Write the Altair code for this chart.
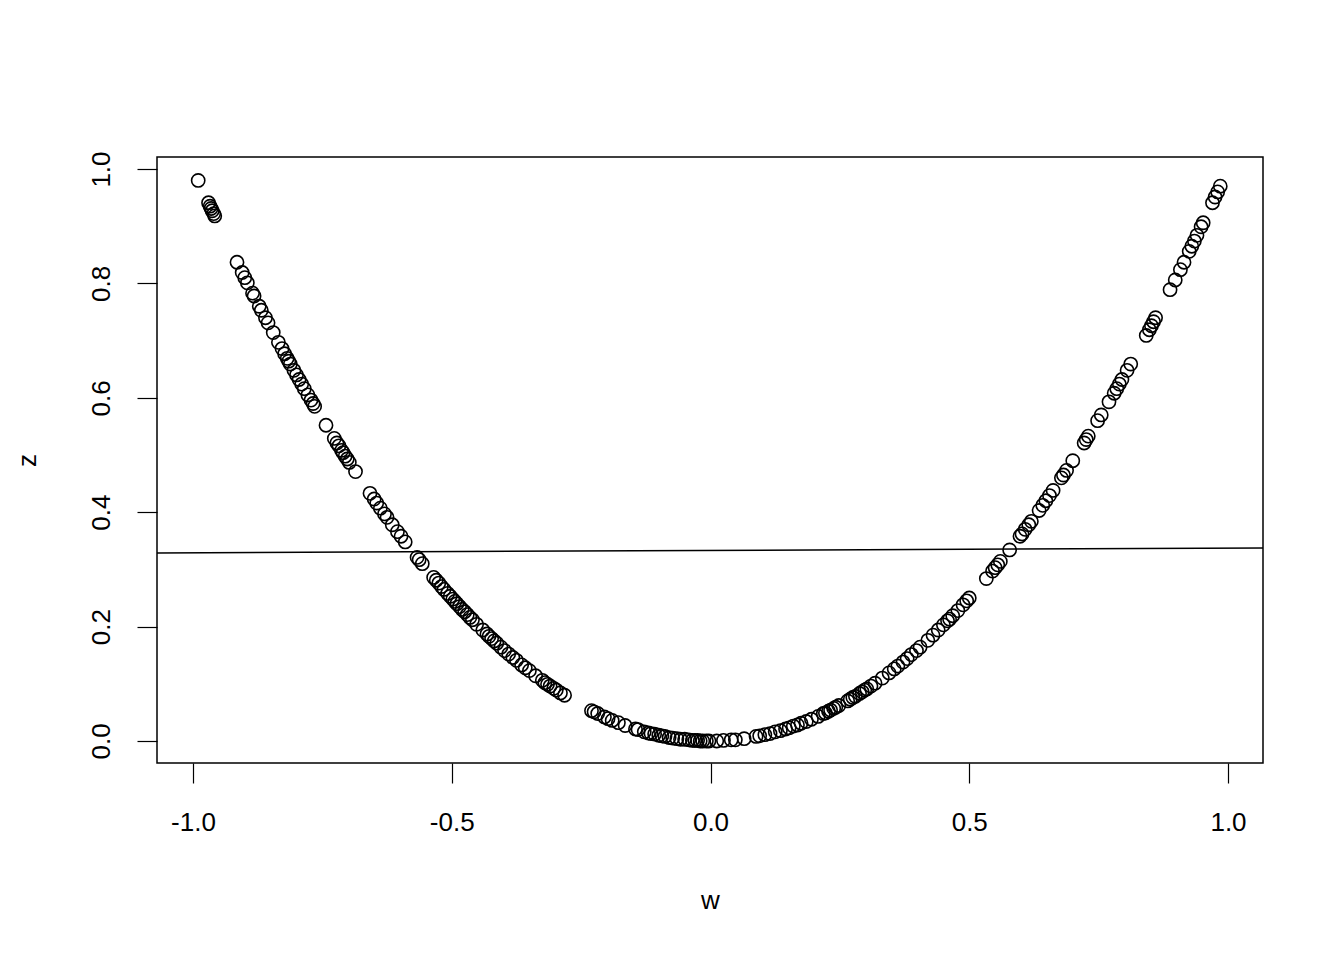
import altair as alt
import pandas as pd

w = [-0.990, -0.970, -0.967, -0.965, -0.963, -0.960, -0.958, -0.915, -0.905, -0.900,
     -0.895, -0.885, -0.882, -0.872, -0.868, -0.860, -0.855, -0.845, -0.835, -0.828,
     -0.823, -0.818, -0.815, -0.812, -0.805, -0.800, -0.795, -0.790, -0.785, -0.778,
     -0.772, -0.768, -0.765, -0.743, -0.727, -0.722, -0.718, -0.713, -0.710, -0.706,
     -0.702, -0.698, -0.686, -0.658, -0.650, -0.645, -0.638, -0.630, -0.625, -0.615,
     -0.605, -0.598, -0.590, -0.567, -0.563, -0.557, -0.535, -0.530, -0.525, -0.520,
     -0.515, -0.508, -0.503, -0.498, -0.494, -0.490, -0.485, -0.480, -0.475, -0.470,
     -0.465, -0.460, -0.452, -0.440, -0.432, -0.428, -0.423, -0.418, -0.413, -0.405,
     -0.398, -0.390, -0.382, -0.375, -0.365, -0.358, -0.350, -0.338, -0.325, -0.320,
     -0.315, -0.310, -0.303, -0.298, -0.290, -0.282, -0.230, -0.225, -0.218, -0.205,
     -0.198, -0.190, -0.178, -0.165, -0.145, -0.140, -0.128, -0.120, -0.115, -0.108,
     -0.100, -0.094, -0.088, -0.080, -0.073, -0.065, -0.058, -0.050, -0.042, -0.035,
     -0.030, -0.025, -0.020, -0.015, -0.008, -0.003, 0.012, 0.025, 0.040, 0.048,
     0.065, 0.088, 0.095, 0.105, 0.115, 0.125, 0.135, 0.145, 0.152, 0.160,
     0.168, 0.175, 0.185, 0.195, 0.208, 0.218, 0.222, 0.228, 0.232, 0.238,
     0.242, 0.248, 0.265, 0.270, 0.275, 0.280, 0.288, 0.293, 0.298, 0.302,
     0.310, 0.318, 0.332, 0.345, 0.355, 0.362, 0.372, 0.380, 0.388, 0.398,
     0.405, 0.420, 0.430, 0.440, 0.450, 0.458, 0.462, 0.468, 0.478, 0.488,
     0.495, 0.500, 0.533, 0.545, 0.550, 0.555, 0.560, 0.578, 0.598, 0.602,
     0.608, 0.615, 0.620, 0.635, 0.642, 0.648, 0.655, 0.662, 0.678, 0.682,
     0.688, 0.700, 0.722, 0.726, 0.730, 0.748, 0.755, 0.770, 0.780, 0.785,
     0.790, 0.795, 0.805, 0.812, 0.842, 0.848, 0.852, 0.856, 0.860, 0.888,
     0.898, 0.908, 0.915, 0.925, 0.930, 0.935, 0.940, 0.948, 0.952, 0.970,
     0.975, 0.980, 0.985]

z = [0.980, 0.941, 0.935, 0.931, 0.927, 0.922, 0.918, 0.837, 0.819, 0.810,
     0.801, 0.783, 0.778, 0.760, 0.753, 0.740, 0.731, 0.714, 0.697, 0.686,
     0.677, 0.669, 0.664, 0.659, 0.648, 0.640, 0.632, 0.624, 0.616, 0.605,
     0.596, 0.590, 0.585, 0.552, 0.529, 0.521, 0.516, 0.508, 0.504, 0.498,
     0.493, 0.487, 0.471, 0.433, 0.423, 0.416, 0.407, 0.397, 0.391, 0.378,
     0.366, 0.358, 0.348, 0.321, 0.317, 0.310, 0.286, 0.281, 0.276, 0.270,
     0.265, 0.258, 0.253, 0.248, 0.244, 0.240, 0.235, 0.230, 0.226, 0.221,
     0.216, 0.212, 0.204, 0.194, 0.187, 0.183, 0.179, 0.175, 0.171, 0.164,
     0.158, 0.152, 0.146, 0.141, 0.133, 0.128, 0.123, 0.114, 0.106, 0.102,
     0.099, 0.096, 0.092, 0.089, 0.084, 0.080, 0.053, 0.051, 0.048, 0.042,
     0.039, 0.036, 0.032, 0.027, 0.021, 0.020, 0.016, 0.014, 0.013, 0.012,
     0.010, 0.009, 0.008, 0.006, 0.005, 0.004, 0.003, 0.003, 0.002, 0.001,
     0.001, 0.001, 0.000, 0.000, 0.000, 0.000, 0.000, 0.001, 0.002, 0.002,
     0.004, 0.008, 0.009, 0.011, 0.013, 0.016, 0.018, 0.021, 0.023, 0.026,
     0.028, 0.031, 0.034, 0.038, 0.043, 0.048, 0.049, 0.052, 0.054, 0.057,
     0.059, 0.062, 0.070, 0.073, 0.076, 0.078, 0.083, 0.086, 0.089, 0.091,
     0.096, 0.101, 0.110, 0.119, 0.126, 0.131, 0.138, 0.144, 0.151, 0.158,
     0.164, 0.176, 0.185, 0.194, 0.203, 0.210, 0.213, 0.219, 0.228, 0.238,
     0.245, 0.250, 0.284, 0.297, 0.303, 0.308, 0.314, 0.334, 0.358, 0.362,
     0.370, 0.378, 0.384, 0.403, 0.412, 0.420, 0.429, 0.438, 0.460, 0.465,
     0.473, 0.490, 0.521, 0.527, 0.533, 0.560, 0.570, 0.593, 0.608, 0.616,
     0.624, 0.632, 0.648, 0.659, 0.709, 0.719, 0.726, 0.733, 0.740, 0.789,
     0.806, 0.824, 0.837, 0.856, 0.865, 0.874, 0.884, 0.899, 0.906, 0.941,
     0.951, 0.960, 0.970]

x_ticks = [-1.0, -0.5, 0.0, 0.5, 1.0]
y_ticks = [0.0, 0.2, 0.4, 0.6, 0.8, 1.0]
x_domain = [-1.0696, 1.0676]
y_domain = [-0.0385, 1.021]

# fitted regression line z ~ w (abline)
fit_intercept = 0.3331
fit_slope = 0.0041

pts = pd.DataFrame({"w": w, "z": z})
line_df = pd.DataFrame({
    "w": x_domain,
    "z": [fit_intercept + fit_slope * v for v in x_domain],
})

FONT = "Liberation Sans"
LBL = "datum.value < 0 ? '-' + format(-datum.value, '.1f') : format(datum.value, '.1f')"

xscale = alt.Scale(domain=x_domain, nice=False, zero=False)
yscale = alt.Scale(domain=y_domain, nice=False, zero=False)

xaxis = alt.Axis(values=x_ticks, labelExpr=LBL, title="w", domain=False, grid=False,
                 tickSize=20, tickColor="black", tickWidth=1.2,
                 labelFont=FONT, labelFontSize=26, labelColor="black", labelPadding=26,
                 titleFont=FONT, titleFontSize=26, titleFontWeight="normal",
                 titleColor="black", titlePadding=52)
yaxis = alt.Axis(values=y_ticks, labelExpr=LBL, title="z", domain=False, grid=False,
                 tickSize=20, tickColor="black", tickWidth=1.2,
                 labelFont=FONT, labelFontSize=26, labelColor="black", labelPadding=28,
                 labelAngle=-90, labelAlign="center", labelBaseline="alphabetic",
                 titleFont=FONT, titleFontSize=26, titleFontWeight="normal",
                 titleColor="black", titlePadding=53, titleAngle=-90,
                 titleBaseline="alphabetic")

points = alt.Chart(pts).mark_point(
    shape="circle", filled=False, size=175, color="black", strokeWidth=1.6, opacity=1
).encode(
    x=alt.X("w:Q", scale=xscale, axis=xaxis),
    y=alt.Y("z:Q", scale=yscale, axis=yaxis),
)

line = alt.Chart(line_df).mark_line(color="black", strokeWidth=1.5, clip=True).encode(
    x=alt.X("w:Q", scale=xscale),
    y=alt.Y("z:Q", scale=yscale),
)

chart = (points + line).properties(
    width=1106, height=606,
    padding={"left": 149, "top": 149, "right": 73, "bottom": 181},
    autosize=alt.AutoSizeParams(type="none"),
    background="white",
).configure_view(stroke="black", strokeWidth=1.5, fill="white")

chart.save("out.html", embed_options={"renderer": "svg", "actions": False})
